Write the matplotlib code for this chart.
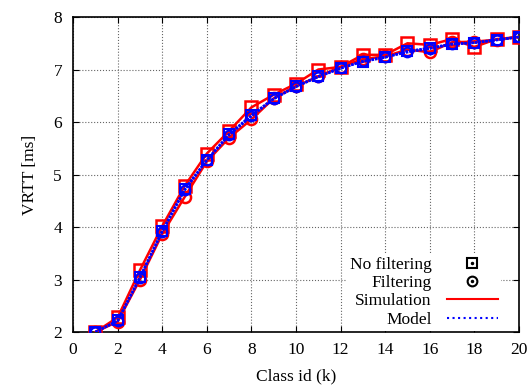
import matplotlib.pyplot as plt
from matplotlib.lines import Line2D
from matplotlib.legend_handler import HandlerTuple

plt.rcParams['font.family'] = ['Liberation Serif', 'DejaVu Serif']

class_id = list(range(1, 21))
# simulation results
sim_nofilter = [2.0, 2.28, 3.18, 4.02, 4.78, 5.40, 5.83, 6.28, 6.52, 6.73,
                7.00, 7.05, 7.28, 7.28, 7.50, 7.47, 7.58, 7.43, 7.58, 7.62]
sim_filter = [2.0, 2.20, 3.00, 3.87, 4.57, 5.25, 5.70, 6.05, 6.45, 6.68,
              6.87, 7.05, 7.20, 7.25, 7.38, 7.33, 7.52, 7.53, 7.57, 7.62]
# model results
model_nofilter = [2.0, 2.22, 3.05, 3.93, 4.72, 5.28, 5.77, 6.13, 6.45, 6.68,
                  6.87, 7.03, 7.15, 7.23, 7.35, 7.41, 7.49, 7.51, 7.57, 7.62]
model_filter = [2.0, 2.21, 3.03, 3.91, 4.70, 5.27, 5.75, 6.11, 6.44, 6.67,
                6.86, 7.02, 7.16, 7.24, 7.33, 7.40, 7.48, 7.51, 7.56, 7.62]

fig = plt.figure(figsize=(5.3, 3.87), dpi=100)
ax = fig.add_axes([0.138, 0.142, 0.841, 0.814])

red = '#ff0000'
blue = '#0000ff'
ax.plot(class_id, sim_nofilter, color=red, lw=1.8, marker='s', ms=8,
        mfc='none', mew=1.8, zorder=3)
ax.plot(class_id, sim_filter, color=red, lw=1.8, marker='o', ms=8,
        mfc='none', mew=1.8, zorder=3)
ax.plot(class_id, model_nofilter, color=blue, lw=1.8, ls=(0, (1, 0.4)),
        marker='s', ms=7, mfc='none', mew=1.5, zorder=4)
ax.plot(class_id, model_filter, color=blue, lw=1.8, ls=(0, (1, 0.4)),
        marker='o', ms=7, mfc='none', mew=1.5, zorder=4)

fs = 12.5
ax.set_xlim(0, 20)
ax.set_ylim(2, 8)
ax.set_xticks(range(0, 21, 2))
ax.set_yticks(range(2, 9))
ax.tick_params(direction='in', top=True, right=True, labelsize=fs, length=4)
ax.tick_params(axis='x', pad=7)
ax.tick_params(axis='y', pad=8)
ax.grid(True, color='#666666', ls=':', lw=0.8)
ax.set_axisbelow(True)
for s in ax.spines.values():
    s.set_linewidth(1.2)

ax.set_xlabel('Class id (k)', fontsize=fs, labelpad=8)
ax.set_ylabel('VRTT [ms]', fontsize=fs, labelpad=11)

sq = Line2D([], [], ls='none', marker='s', ms=7, mfc='none', mec='black', mew=1.5)
ci = Line2D([], [], ls='none', marker='o', ms=7, mfc='none', mec='black', mew=1.5)
dot = Line2D([], [], ls='none', marker='.', ms=3, color='black')
sim_h = Line2D([], [], color=red, lw=1.5)
mod_h = Line2D([], [], color=blue, lw=1.5, ls=':')
leg = ax.legend([(sq, dot), (ci, dot), sim_h, mod_h],
                ['No filtering', 'Filtering', 'Simulation', 'Model'],
                handler_map={tuple: HandlerTuple(ndivide=1)},
                loc='lower right', bbox_to_anchor=(0.962, 0.0),
                markerfirst=False, fontsize=fs,
                frameon=True, framealpha=1, facecolor='white', edgecolor='none',
                fancybox=False, handlelength=2.9, labelspacing=0.12,
                borderaxespad=0.05, handletextpad=0.9, borderpad=0.2)
leg.set_zorder(5)

fig.savefig('out.png', dpi=100)
